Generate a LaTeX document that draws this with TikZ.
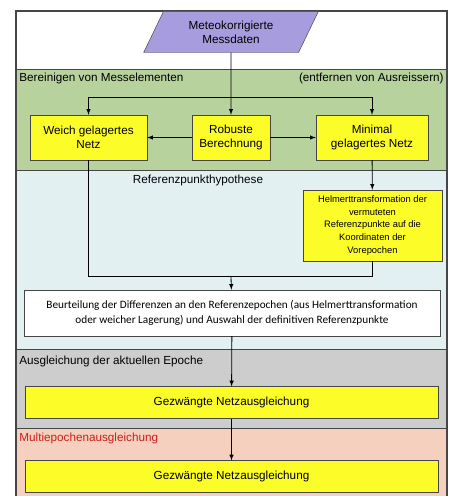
\documentclass[tikz,border=0pt]{standalone}
\usepackage{fontspec}
\setmainfont{Liberation Sans}
\newfontfamily\calibri{Carlito}
\usetikzlibrary{shapes.geometric}

\definecolor{datafill}{RGB}{166,156,222}
\definecolor{greenband}{RGB}{184,210,158}
\definecolor{blueband}{RGB}{226,240,242}
\definecolor{greyband}{RGB}{205,205,205}
\definecolor{orangeband}{RGB}{246,208,190}
\definecolor{boxyellow}{RGB}{252,252,40}
\definecolor{framegrey}{RGB}{70,70,70}
\definecolor{titlered}{RGB}{200,30,30}

\begin{document}
\begin{tikzpicture}[x=0.03cm, y=-0.03cm, >=latex, font=\fontsize{10}{12}\selectfont,
    line/.style={line width=0.7pt},
    proc/.style={draw=framegrey, fill=boxyellow, align=center, minimum height=1.35cm},
    wide/.style={draw=framegrey, fill=boxyellow, minimum width=12.39cm, minimum height=0.95cm},
    title/.style={inner sep=1pt}]
    \useasboundingbox (0,0) rectangle (452,496);

    % bands
    \fill[white] (16,11) rectangle (447,69);
    \fill[greenband] (16,69) rectangle (447,170);
    \fill[blueband] (16,170) rectangle (447,349);
    \fill[greyband] (16,349) rectangle (447,428);
    \fill[orangeband] (16,428) rectangle (447,500);
    \draw[framegrey] (16,69) -- (447,69);
    \draw[framegrey] (16,170) -- (447,170);
    \draw[framegrey] (16,349) -- (447,349);
    \draw[framegrey] (16,428) -- (447,428);
    \draw[framegrey, line width=0.9pt] (16,500) -- (16,11) -- (447,11) -- (447,500);

    % band titles
    \node[title, anchor=west] (T1) at (18,78) {Bereinigen von Messelementen};
    \node[title, anchor=east] (T1r) at (445,78) {(entfernen von Ausreissern)};
    \node[title] (T2) at (198,180) {Referenzpunkthypothese};
    \node[title, anchor=west] (T3) at (18,361) {Ausgleichung der aktuellen Epoche};
    \node[title, anchor=west, text=titlered] (T4) at (18,438) {Multiepochenausgleichung};

    % nodes
    \node[trapezium, trapezium left angle=66, trapezium right angle=114, trapezium stretches=true,
          draw=framegrey, fill=datafill, align=center, minimum width=5.25cm, minimum height=1.23cm]
          (M) at (231,32) {Meteokorrigierte\\Messdaten};
    \node[proc, minimum width=3.51cm] (W) at (88.5,137.5) {Weich gelagertes\\Netz};
    \node[proc, minimum width=2.34cm] (R) at (231,137.5) {Robuste\\Berechnung};
    \node[proc, minimum width=3.36cm] (N) at (372,137.5) {Minimal\\gelagertes Netz};
    \node[proc, minimum width=4.17cm, minimum height=2.13cm, font=\fontsize{8}{11}\selectfont]
          (H) at (372.5,225.5) {Helmerttransformation der\\vermuteten\\Referenzpunkte auf die\\Koordinaten der\\Vorepochen};
    \node[draw=framegrey, fill=white, align=center, minimum width=12.48cm, minimum height=1.38cm,
          font=\calibri\fontsize{9.6}{13}\selectfont]
          (B) at (232,313) {Beurteilung der Differenzen an den Referenzepochen (aus Helmerttransformation\\oder weicher Lagerung) und Auswahl der definitiven Referenzpunkte};
    \node[wide] (G1) at (231.5,402.5) {Gezwängte Netzausgleichung};
    \node[wide] (G2) at (231.5,476.5) {Gezwängte Netzausgleichung};

    \coordinate (S) at (231,97);
    \coordinate (J) at (231,276);

    % connectors
    \draw[line, ->] (M) -- (R);
    \draw[line, ->] (S) -| (W);
    \draw[line, ->] (S) -| (N);
    \draw[line, ->] (R) -- (W);
    \draw[line, ->] (R) -- (N);
    \draw[line, ->] (N) -- (H);
    \draw[line] (W) |- (J);
    \draw[line] (H) |- (J);
    \draw[line, ->] (J) -- (B);
    \draw[line, ->] (B) -- (G1);
    \draw[line, ->] (G1) -- (G2);
  \end{tikzpicture}
\end{document}
